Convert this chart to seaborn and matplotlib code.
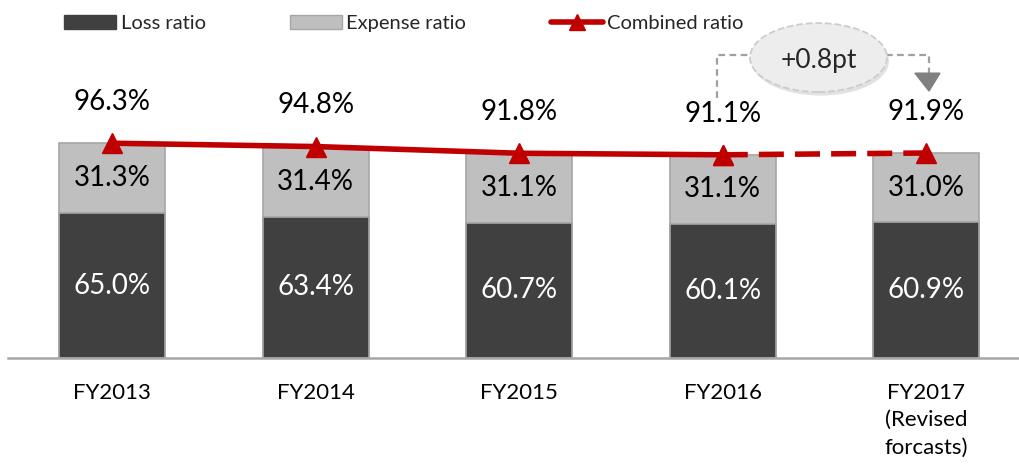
import matplotlib
matplotlib.use("Agg")
import matplotlib.pyplot as plt
from matplotlib.patches import Patch, Ellipse
from matplotlib.lines import Line2D
import seaborn as sns
import pandas as pd

# ── Data ──────────────────────────────────────────────────────────────────────
years = ["FY2013", "FY2014", "FY2015", "FY2016", "FY2017\n(Revised\nforcasts)"]
loss_ratio = [65.0, 63.4, 60.7, 60.1, 60.9]
expense_ratio = [31.3, 31.4, 31.1, 31.1, 31.0]
combined_ratio = [96.3, 94.8, 91.8, 91.1, 91.9]
change_label = "+0.8pt"
legend_labels = ["Loss ratio", "Expense ratio", "Combined ratio"]

# ── Style ─────────────────────────────────────────────────────────────────────
LOSS = "#404040"
EXPENSE = "#BFBFBF"
EDGE = "#A6A6A6"
RED = "#C00000"
CONNECT = "#A0A0A0"

sns.set_theme(style="white")
plt.rcParams["font.family"] = ["Lato", "DejaVu Sans"]

df = pd.DataFrame({"year": years, "loss": loss_ratio,
                   "expense": expense_ratio, "combined": combined_ratio})

fig = plt.figure(figsize=(10.2, 4.68), dpi=100)
ax = fig.add_axes([8 / 1020, 110 / 468, 1012 / 1020, 358 / 468])

# stacked bars: full height in expense grey, loss drawn on top
sns.barplot(data=df, x="year", y="combined", color=EXPENSE, width=0.52,
            saturation=1, edgecolor=EDGE, linewidth=1.2, errorbar=None, ax=ax)
sns.barplot(data=df, x="year", y="loss", color=LOSS, width=0.52,
            saturation=1, edgecolor=EDGE, linewidth=1.2, errorbar=None, ax=ax)

n = len(years)
xs = list(range(n))

# combined ratio line: actual solid, forecast dashed
ax.plot(xs[:-1], combined_ratio[:-1], color=RED, lw=4, marker="^",
        markersize=15, zorder=5, solid_capstyle="butt")
ax.plot(xs[-2:], combined_ratio[-2:], color=RED, lw=4, marker="^",
        markersize=15, dashes=(4.5, 2), zorder=5)

for i in xs:
    ax.text(i, loss_ratio[i] / 2, f"{loss_ratio[i]:.1f}%", color="white",
            fontsize=20, ha="center", va="center", zorder=6)
    ax.text(i, loss_ratio[i] + expense_ratio[i] / 2, f"{expense_ratio[i]:.1f}%",
            color="black", fontsize=20, ha="center", va="center", zorder=6)
    ax.text(i, combined_ratio[i] + 18.5, f"{combined_ratio[i]:.1f}%",
            color="black", fontsize=20, ha="center", va="center", zorder=6)

# change annotation between the last two years
top = max(combined_ratio)
line_y = top + 39.5
ex, ey = xs[-2] + 0.470, top + 38.4
ax.add_patch(Ellipse((ex + 0.01, ey - 1.6), 0.673, 30.9, facecolor="#CFCFCF",
                     edgecolor="none", alpha=0.6, zorder=6))
ax.add_patch(Ellipse((ex, ey), 0.673, 30.9, facecolor="#EDEDED",
                     edgecolor="#CCCCCC", linestyle="--", lw=1.3, zorder=7))
ax.text(ex, top + 37.0, change_label, fontsize=19, ha="center", va="center",
        zorder=8)
ax.plot([xs[-2] - 0.029, xs[-2] - 0.029, ex - 0.33], [top + 20.2, line_y, line_y],
        color=CONNECT, lw=1.6, dashes=(3, 2), zorder=5)
ax.plot([ex + 0.33, xs[-1] + 0.013, xs[-1] + 0.013], [line_y, line_y, top + 31.4],
        color=CONNECT, lw=1.6, dashes=(3, 2), zorder=5)
ax.fill([xs[-1] - 0.056, xs[-1] + 0.067, xs[-1] + 0.013],
        [top + 31.4, top + 31.4, top + 23.4], color="#808080", zorder=6)

ax.set_xlim(-0.511, 4.46)
ax.set_ylim(0, 160.5)
ax.set_xlabel("")
ax.set_ylabel("")
ax.set_yticks([])
ax.tick_params(axis="x", length=0, pad=18, labelsize=16, colors="black")
for t in ax.get_xticklabels():
    t.set_linespacing(1.45)
for side in ["left", "right", "top"]:
    ax.spines[side].set_visible(False)
ax.spines["bottom"].set_color(EDGE)
ax.spines["bottom"].set_linewidth(1.8)

handles = [Patch(facecolor=LOSS, edgecolor=LOSS),
           Patch(facecolor=EXPENSE, edgecolor=EDGE),
           Line2D([0], [0], color=RED, lw=4, marker="^", markersize=11)]
fig.legend(handles, legend_labels, loc="upper left", bbox_to_anchor=(0.053, 0.99),
           ncol=3, frameon=False, fontsize=14.5, handlelength=2.6,
           handleheight=0.7, handletextpad=0.2, columnspacing=4.2, borderpad=0)

fig.savefig("out.png", dpi=100)
